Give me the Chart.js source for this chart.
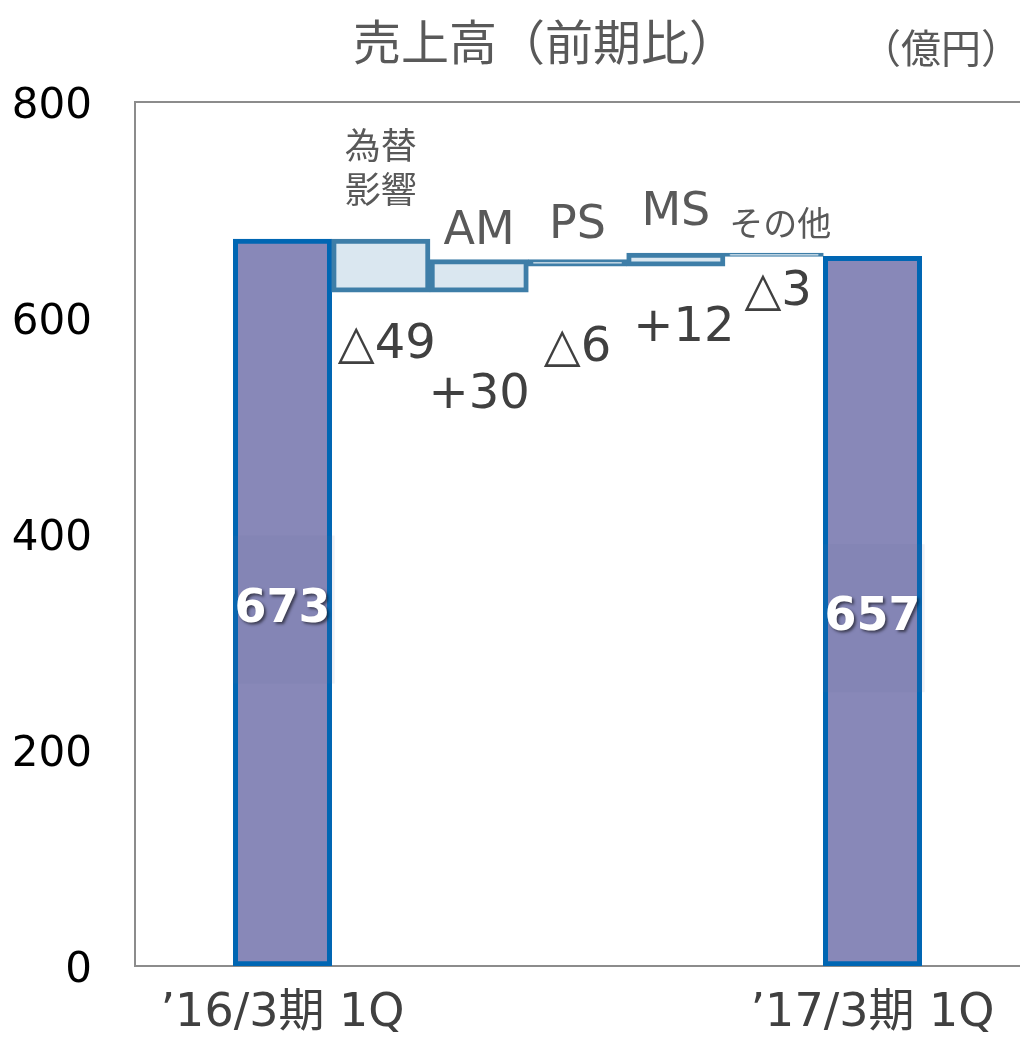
<!DOCTYPE html>
<html lang="ja">
<head>
<meta charset="UTF-8">
<title>売上高（前期比）</title>
<script src="https://cdn.jsdelivr.net/npm/chart.js"></script>
<style>
  body { margin: 0; background: #fff; }
  #wrap { width: 1020px; height: 1037px; }
</style>
</head>
<body>
<div id="wrap"><canvas id="chart" width="1020" height="1037"></canvas></div>
<script>
// data
const categories = ['', '’16/3期 1Q', '為替影響', 'AM', 'PS', 'MS', 'その他', '’17/3期 1Q', ''];
const startValue = 673;
const deltas = [-49, 30, -6, 12, -3];
const endValue = 657;
const yTicks = [0, 200, 400, 600, 800];

const FONT = '"DejaVu Sans", "Noto Sans CJK JP", sans-serif';
const CJK = '"Noto Sans CJK JP", sans-serif';

// floating ranges for the waterfall
const ranges = [null, [0, startValue]];
let run = startValue;
deltas.forEach(d => {
    const next = run + d;
    ranges.push([Math.min(run, next), Math.max(run, next)]);
    run = next;
});
ranges.push([0, endValue]);
ranges.push(null);

const isTotal = i => i === 1 || i === categories.length - 2;
const deltaText = d => (d < 0 ? '△' + Math.abs(d) : '+' + d);

const annotations = {
    id: 'annotations',
    afterDraw(chart) {
        const ctx = chart.ctx;
        const area = chart.chartArea;
        const meta = chart.getDatasetMeta(0);
        ctx.save();

        // top frame line
        ctx.strokeStyle = '#8c8c8c';
        ctx.lineWidth = 2;
        ctx.beginPath();
        ctx.moveTo(area.left, area.top);
        ctx.lineTo(area.right, area.top);
        ctx.stroke();

        // title + unit
        ctx.fillStyle = '#595959';
        ctx.textAlign = 'center';
        ctx.textBaseline = 'middle';
        ctx.font = '48px ' + CJK;
        ctx.fillText('売上高（前期比）', 545, 42);
        ctx.font = '40px ' + CJK;
        ctx.fillText('（億円）', 941, 48);

        // totals inside the bars
        [1, categories.length - 2].forEach(i => {
            const bar = meta.data[i];
            const cy = (bar.y + bar.base) / 2 + 7;
            ctx.fillStyle = 'rgba(100, 112, 160, 0.1)';
            ctx.fillRect(bar.x - bar.width / 2, cy - 74, bar.width + 3, 148);
            ctx.save();
            ctx.shadowColor = 'rgba(0,0,0,0.55)';
            ctx.shadowOffsetX = 2;
            ctx.shadowOffsetY = 2;
            ctx.shadowBlur = 3;
            ctx.fillStyle = '#ffffff';
            ctx.font = 'bold 46px ' + FONT;
            ctx.fillText(String(ranges[i][1]), bar.x, cy);
            ctx.restore();
        });

        // step names above, deltas below
        const nameOffsets = [null, -28, -34, -40, -30];
        const valueOffsets = [[6, 53], [0, 103], [0, 82], [8, 62], [4, 36]];
        deltas.forEach((d, k) => {
            const i = k + 2;
            const bar = meta.data[i];
            const top = Math.min(bar.y, bar.base);
            const bottom = Math.max(bar.y, bar.base);
            ctx.fillStyle = '#595959';
            if (k === 0) {
                ctx.font = '36px ' + CJK;
                ctx.fillText(categories[i].slice(0, 2), bar.x, top - 94);
                ctx.fillText(categories[i].slice(2), bar.x, top - 50);
            } else if (categories[i] === 'その他') {
                ctx.font = '34px ' + CJK;
                ctx.fillText(categories[i], bar.x + 6, top + nameOffsets[k]);
            } else {
                ctx.font = '46px ' + FONT;
                ctx.fillText(categories[i], bar.x + (k === 4 ? 4 : 0), top + nameOffsets[k]);
            }
            ctx.fillStyle = '#404040';
            ctx.font = '48px ' + FONT;
            ctx.fillText(deltaText(d), bar.x + valueOffsets[k][0], bottom + valueOffsets[k][1]);
        });
        ctx.restore();
    }
};

new Chart(document.getElementById('chart'), {
    type: 'bar',
    data: {
        labels: categories,
        datasets: [{
            data: ranges,
            backgroundColor: ranges.map((_, i) => isTotal(i) ? '#8888b8' : '#dae7f0'),
            borderColor: ranges.map((_, i) => isTotal(i) ? '#0066b3' : '#3e7ea8'),
            borderWidth: 5,
            borderSkipped: false,
            barPercentage: 1,
            categoryPercentage: 1
        }]
    },
    options: {
        responsive: false,
        animation: false,
        layout: { padding: { top: 102, right: 0, left: 0, bottom: 0 } },
        plugins: {
            legend: { display: false },
            tooltip: { enabled: false }
        },
        scales: {
            x: {
                grid: { display: false, drawTicks: false },
                border: { display: true, color: '#8c8c8c', width: 2 },
                ticks: {
                    padding: 20,
                    color: '#404040',
                    font: { size: 46, family: FONT },
                    maxRotation: 0,
                    autoSkip: false,
                    callback: (v, i) => isTotal(i) ? categories[i] : ''
                },
                afterFit: s => { s.height = 71; }
            },
            y: {
                min: 0,
                max: 800,
                grid: { display: false, drawTicks: false },
                border: { display: true, color: '#8c8c8c', width: 2 },
                ticks: {
                    padding: 43,
                    labelOffset: 5,
                    color: '#000000',
                    font: { size: 42, family: FONT }
                },
                afterBuildTicks: s => { s.ticks = yTicks.map(v => ({ value: v })); },
                afterFit: s => { s.width = 135; }
            }
        }
    },
    plugins: [annotations]
});
</script>
</body>
</html>
